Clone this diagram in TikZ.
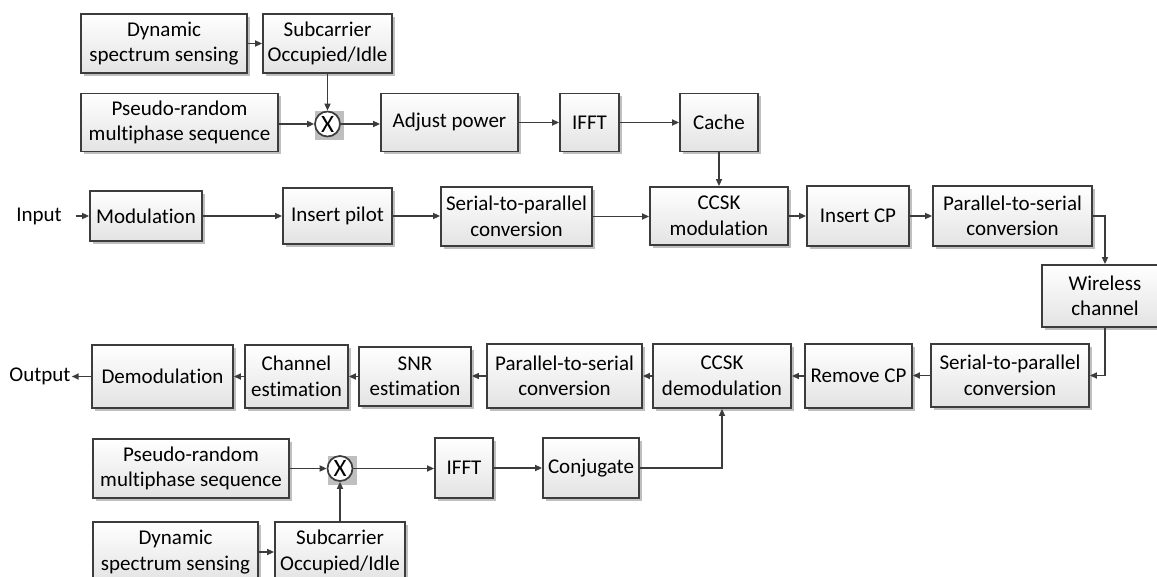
\documentclass[tikz,border=0pt]{standalone}
\usepackage{fontspec}
\setmainfont{Carlito}[Ligatures={NoCommon}]
\usetikzlibrary{arrows.meta,shadows}
\definecolor{lc}{HTML}{3C3C3C}
\begin{document}
\begin{tikzpicture}[x=1pt,y=-1pt,
  blk/.style={draw=lc, line width=1.8pt, top color=white, bottom color=black!11,
    align=center, inner sep=0pt, font=\fontsize{21}{25.5}\selectfont,
    drop shadow={shadow xshift=3pt, shadow yshift=-3pt, fill=black!25, opacity=1}},
  arr/.style={draw=lc, line width=1.6pt, -{Triangle[length=7pt,width=6pt]}},
  lbl/.style={font=\fontsize{21}{25.5}\selectfont, inner sep=1pt},
  mul/.style={circle, draw=lc, line width=1.7pt, fill=white, minimum size=25pt,
    inner sep=0pt, font=\fontsize{25}{25}\selectfont},
  msq/.style={fill=black!25, minimum size=29pt, inner sep=0pt}]
\useasboundingbox (0,0) rectangle (1157,577);
% ---------- top branch ----------
\node[blk, minimum width=166pt, minimum height=59pt] (dss1) at (164,43.5) {Dynamic\\spectrum sensing};
\node[blk, minimum width=129pt, minimum height=59pt] (sub1) at (327.5,43.5) {Subcarrier\\Occupied/Idle};
\node[blk, minimum width=197pt, minimum height=58pt] (prm1) at (179.5,122.5) {Pseudo-random\\multiphase sequence};
\node[msq] at (329.5,125.5) {};
\node[mul] (mul1) at (327.5,124) {X};
\node[blk, minimum width=137pt, minimum height=58pt] (adj) at (449.5,122.5) {Adjust power};
\node[blk, minimum width=59pt, minimum height=58pt] (ifft1) at (589.5,122.5) {IFFT};
\node[blk, minimum width=78pt, minimum height=58pt] (cache) at (719,122.5) {Cache};
% ---------- transmitter ----------
\node[lbl] (in) at (39,216) {Input};
\node[blk, minimum width=112pt, minimum height=50pt] (mod) at (146,216) {Modulation};
\node[blk, minimum width=109pt, minimum height=56pt] (pilot) at (337.5,216) {Insert pilot};
\node[blk, minimum width=151pt, minimum height=59pt] (s2p1) at (516.5,216.5) {Serial-to-parallel\\conversion};
\node[blk, minimum width=138pt, minimum height=58pt] (ccskm) at (719,216) {CCSK\\modulation};
\node[blk, minimum width=102pt, minimum height=60pt] (icp) at (858,216) {Insert CP};
\node[blk, minimum width=159pt, minimum height=60pt] (p2s1) at (1012.5,216) {Parallel-to-serial\\conversion};
\node[blk, minimum width=126pt, minimum height=62pt] (wless) at (1105,296) {Wireless\\channel};
% ---------- receiver ----------
\node[blk, minimum width=158pt, minimum height=63pt] (s2p2) at (1010,375.5) {Serial-to-parallel\\conversion};
\node[blk, minimum width=107pt, minimum height=64pt] (rcp) at (858.5,376) {Remove CP};
\node[blk, minimum width=138pt, minimum height=64pt] (ccskd) at (722,376) {CCSK\\demodulation};
\node[blk, minimum width=155pt, minimum height=64pt] (p2s2) at (564.5,376) {Parallel-to-serial\\conversion};
\node[blk, minimum width=112pt, minimum height=59pt] (snr) at (415,376.5) {SNR\\estimation};
\node[blk, minimum width=103pt, minimum height=63pt] (chest) at (296.5,376.5) {Channel\\estimation};
\node[blk, minimum width=141pt, minimum height=63pt] (demod) at (162.5,376.5) {Demodulation};
\node[lbl] (out) at (40,376) {Output};
% ---------- bottom branch ----------
\node[blk, minimum width=196pt, minimum height=59pt] (prm2) at (191,468.5) {Pseudo-random\\multiphase sequence};
\node[msq] at (342,470) {};
\node[mul] (mul2) at (340,468.5) {X};
\node[blk, minimum width=58pt, minimum height=60pt] (ifft2) at (464,468) {IFFT};
\node[blk, minimum width=96pt, minimum height=60pt] (conj) at (591,468) {Conjugate};
\node[blk, minimum width=165pt, minimum height=60pt] (dss2) at (175.5,552) {Dynamic\\spectrum sensing};
\node[blk, minimum width=130pt, minimum height=60pt] (sub2) at (340,552) {Subcarrier\\Occupied/Idle};
% ---------- connectors ----------
\draw[arr] (dss1.east) -- (dss1.east -| sub1.west);
\draw[arr] (sub1.south) -- (mul1.north);
\draw[arr] (mul1.west -| prm1.east) -- (mul1.west);
\draw[arr] (mul1.east) -- (mul1.east -| adj.west);
\draw[arr] (adj.east) -- (adj.east -| ifft1.west);
\draw[arr] (ifft1.east) -- (ifft1.east -| cache.west);
\draw[arr] (cache.south) -- (cache.south |- ccskm.north);
\draw[arr, shorten <=13pt] (in.east) -- (in.east -| mod.west);
\draw[arr] (mod.east) -- (mod.east -| pilot.west);
\draw[arr] (pilot.east) -- (pilot.east -| s2p1.west);
\draw[arr] (s2p1.east) -- (s2p1.east -| ccskm.west);
\draw[arr] (ccskm.east) -- (ccskm.east -| icp.west);
\draw[arr] (icp.east) -- (icp.east -| p2s1.west);
\draw[arr] (p2s1.east) -| (wless.north);
\draw[arr] (wless.south) |- (s2p2.east);
\draw[arr] (s2p2.west) -- (s2p2.west -| rcp.east);
\draw[arr] (rcp.west) -- (rcp.west -| ccskd.east);
\draw[arr] (ccskd.west) -- (ccskd.west -| p2s2.east);
\draw[arr] (p2s2.west) -- (p2s2.west -| snr.east);
\draw[arr] (snr.west) -- (snr.west -| chest.east);
\draw[arr] (chest.west) -- (chest.west -| demod.east);
\draw[arr] (demod.west) -- (demod.west -| out.east);
\draw[arr] (mul2.west -| prm2.east) -- (mul2.west);
\draw[arr] (mul2.east) -- (mul2.east -| ifft2.west);
\draw[arr] (ifft2.east) -- (ifft2.east -| conj.west);
\draw[arr] (conj.east) -| (ccskd.south);
\draw[arr] (dss2.east) -- (dss2.east -| sub2.west);
\draw[arr] (sub2.north) -- (mul2.south);
\end{tikzpicture}
\end{document}
